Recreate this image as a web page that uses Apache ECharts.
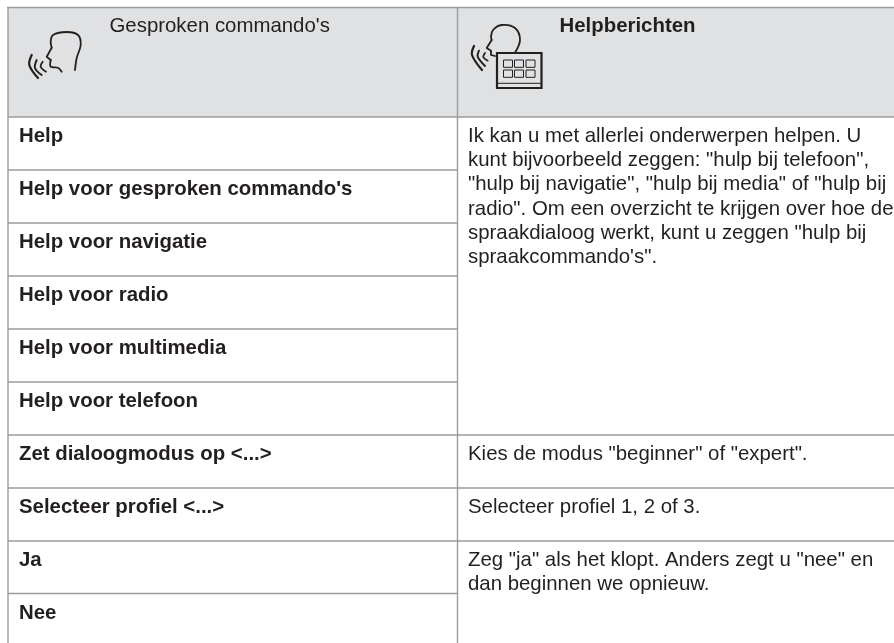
<!DOCTYPE html>
<html><head><meta charset="utf-8">
<style>html,body{margin:0;padding:0;background:#fff}#c{width:894px;height:643px}</style>
<script src="https://cdn.jsdelivr.net/npm/echarts@6/dist/echarts.min.js"></script>
</head><body><div id="c"></div>
<script>
const headers = ["Gesproken commando's", "Helpberichten"];
const commands = ["Help","Help voor gesproken commando's","Help voor navigatie","Help voor radio","Help voor multimedia","Help voor telefoon","Zet dialoogmodus op <...>","Selecteer profiel <...>","Ja","Nee"];
const helpTexts = [
 {row:0, lines:["Ik kan u met allerlei onderwerpen helpen. U","kunt bijvoorbeeld zeggen: \"hulp bij telefoon\",","\"hulp bij navigatie\", \"hulp bij media\" of \"hulp bij","radio\". Om een overzicht te krijgen over hoe de","spraakdialoog werkt, kunt u zeggen \"hulp bij","spraakcommando's\"."]},
 {row:6, lines:["Kies de modus \"beginner\" of \"expert\"."]},
 {row:7, lines:["Selecteer profiel 1, 2 of 3."]},
 {row:8, lines:["Zeg \"ja\" als het klopt. Anders zegt u \"nee\" en","dan beginnen we opnieuw."]}
];
const rowLines = [117,170,223,276,329,382,435,488,541,593.5];
const fullLines = [117,435,488,541];
const rowTextY = [136,189,242,295,348,401,454,507,560,613];
const FONT = '"Liberation Sans", Arial, sans-serif';
const TEXT = '#231f20', LINE = '#999b9e', INK='#231f20';
const g = [];
g.push({type:'rect',shape:{x:8,y:8,width:886,height:109},style:{fill:'#e0e1e3'}});
function ln(x1,y1,x2,y2,w){g.push({type:'line',shape:{x1,y1,x2,y2},style:{stroke:LINE,lineWidth:w||1.4}});}
ln(7,7.5,894,7.5); ln(8,7,8,643); ln(457.5,7,457.5,643);
rowLines.forEach(y=>ln(8,y,fullLines.includes(y)?894:457.5,y));
function txt(s,x,y,bold){g.push({type:'text',x,y,style:{text:s,fontFamily:FONT,fontSize:20.4,fontWeight:bold?'bold':'normal',fill:TEXT,verticalAlign:'middle',align:'left'}});}
txt(headers[0],109.5,26,false); txt(headers[1],559.5,26,true);
commands.forEach((c,i)=>txt(c,19,rowTextY[i],true));
helpTexts.forEach(h=>h.lines.forEach((l,i)=>txt(l,468,rowTextY[h.row]+i*24.3,false)));
function curve(points,w,smooth){g.push({type:'polyline',shape:{points,smooth:smooth==null?0.35:smooth},style:{stroke:INK,fill:null,lineWidth:w||1.8,lineCap:'round',lineJoin:'round'}});}
// left icon
curve([[75,70],[76.7,58],[80.7,45],[78,35],[66.7,32],[53,35],[50.7,41.7],[51.7,47.7]]);
curve([[51.7,47.7],[46.7,56.7],[50.7,60]],1.8,0);
curve([[50.7,60],[50.7,66.7],[58,67.7],[61.7,71.7]]);
curve([[31.7,55],[29.3,65],[38,78]],2.2); curve([[36.7,60],[35,68],[41.7,75]],1.9); curve([[42.7,61.7],[40.7,66.7],[46,71.7]],1.7);
// right icon
curve([[515,52.7],[520,40],[515,28],[501.7,25],[493,30],[491,36.7],[491.7,40]]);
curve([[491.7,40],[486.7,48],[491,50.7],[491,55],[495,56]],1.8,0);
curve([[474,46],[472,55],[482,70]],2.2); curve([[479,50.7],[477.7,56.7],[485,66]],1.9); curve([[485,53],[483.3,57.3],[487.7,60.7]],1.7);
g.push({type:'rect',shape:{x:497,y:53,width:44.5,height:35},style:{fill:'#e0e1e3',stroke:INK,lineWidth:2.2}});
g.push({type:'line',shape:{x1:497,y1:83.3,x2:541.5,y2:83.3},style:{stroke:INK,lineWidth:1}});
[[503.5,60],[514.5,60],[526,60],[503.5,70],[514.5,70],[526,70]].forEach(p=>g.push({type:'rect',shape:{x:p[0],y:p[1],width:9,height:7.3},style:{fill:'none',stroke:INK,lineWidth:1}}));
const chart=echarts.init(document.getElementById('c'),null,{renderer:'canvas'});
chart.setOption({animation:false,graphic:{elements:g}});
</script></body></html>
